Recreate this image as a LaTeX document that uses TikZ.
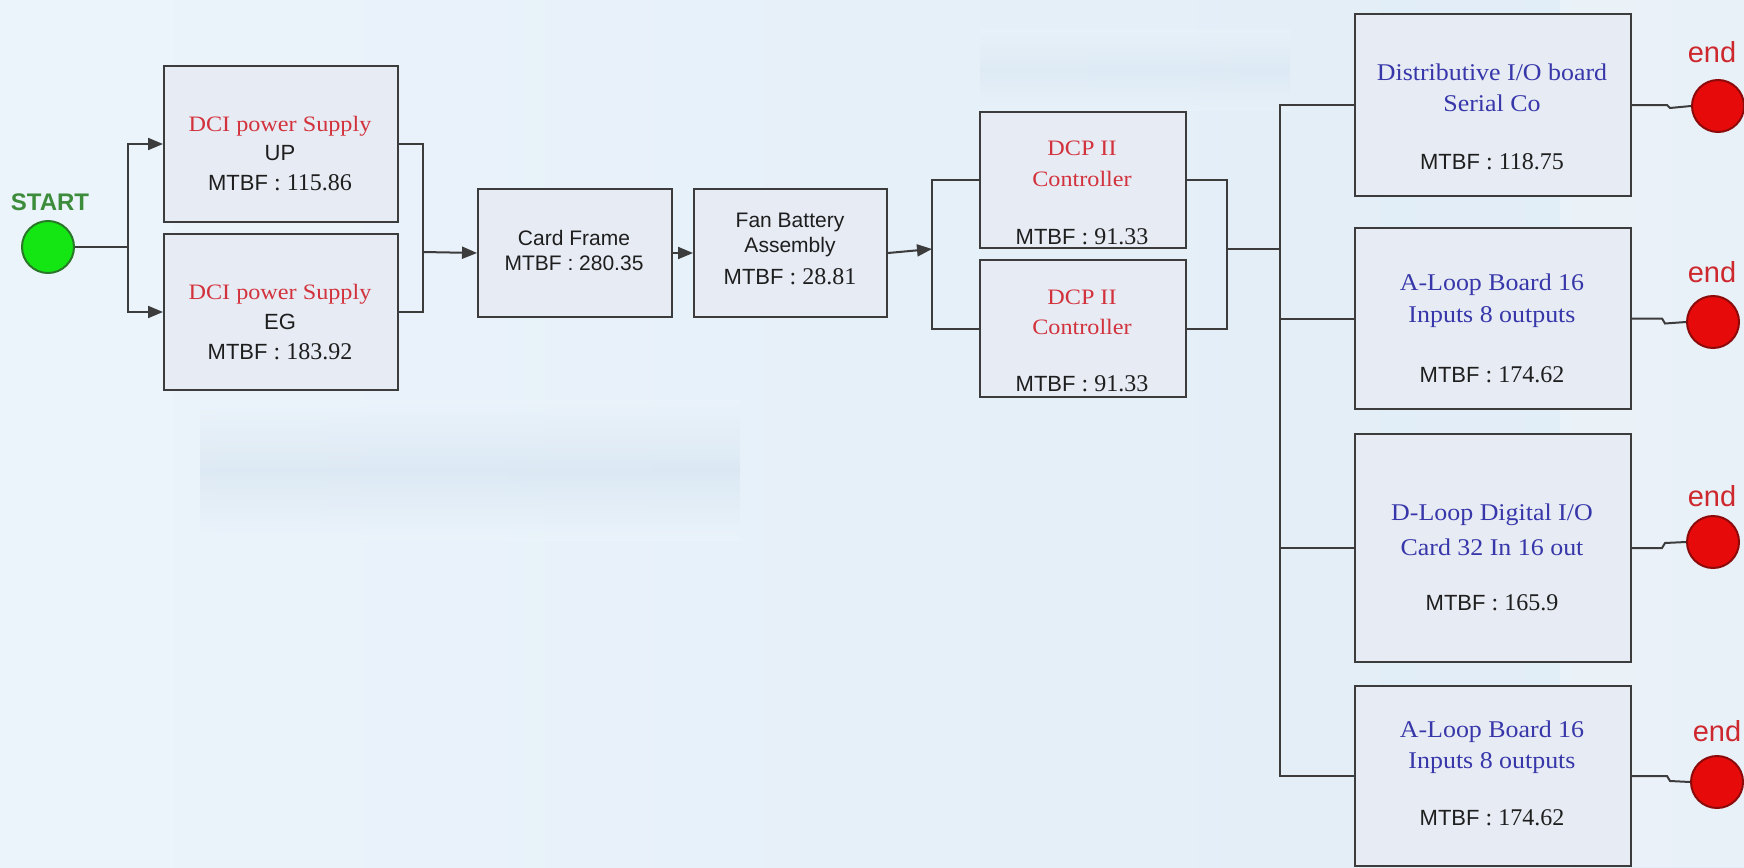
\documentclass[tikz,border=0pt]{standalone}
\usepackage{fontspec}
\setmainfont{Liberation Serif}
\setsansfont{Liberation Sans}
\newfontfamily\widerm[FakeStretch=1.1]{Liberation Serif}
\newfontfamily\bluerm[FakeStretch=1.08]{Liberation Serif}
\usetikzlibrary{arrows.meta}
\definecolor{bgl}{RGB}{236,244,251}
\definecolor{bgr}{RGB}{224,236,246}
\definecolor{bgdark}{RGB}{212,227,240}
\definecolor{boxfill}{RGB}{231,235,244}
\definecolor{boxline}{RGB}{60,60,60}
\definecolor{redtxt}{RGB}{210,50,60}
\definecolor{bluetxt}{RGB}{55,55,170}
\definecolor{darktxt}{RGB}{30,30,30}
\definecolor{startgreen}{RGB}{60,140,60}
\definecolor{startdraw}{RGB}{40,120,40}
\definecolor{startfill}{RGB}{20,230,20}
\definecolor{enddraw}{RGB}{140,10,10}
\definecolor{endfill}{RGB}{230,10,10}
\definecolor{endred}{RGB}{205,40,45}
\tikzset{
  blk/.style={draw=boxline, line width=2pt, fill=boxfill, inner sep=0pt, anchor=north west},
  conn/.style={draw=boxline, line width=2pt},
  arr/.style={conn, -{Triangle[length=15pt,width=12pt]}},
  sanst/.style={font=\fontsize{22}{25}\sffamily, text=darktxt, inner sep=0pt},
  sansm/.style={font=\fontsize{21}{24}\sffamily, text=darktxt, inner sep=0pt},
  redt/.style={font=\fontsize{22}{25}\widerm, text=redtxt, inner sep=0pt},
  bluet/.style={font=\fontsize{24}{27}\bluerm, text=bluetxt, inner sep=0pt},
  startc/.style={circle, draw=startdraw, line width=2pt, fill=startfill, minimum size=52pt, inner sep=0pt},
  endc/.style={circle, draw=enddraw, line width=2pt, fill=endfill, minimum size=52pt, inner sep=0pt},
  endt/.style={font=\fontsize{29}{32}\sffamily, text=endred, inner sep=0pt},
}
\newcommand{\mtbf}[1]{{\sffamily MTBF} {\fontsize{24}{27}\rmfamily: #1}}
\begin{document}
\begin{tikzpicture}[x=1pt,y=-1pt]
\useasboundingbox (0,0) rectangle (1744,867);
\shade[left color=bgl, right color=bgr] (0,0) rectangle (1744,867);
\shade[top color=bgl, bottom color=bgl, middle color=bgdark, opacity=0.6] (200,400) rectangle (740,540);
\shade[top color=bgl, bottom color=bgl, middle color=bgdark, opacity=0.4] (980,30) rectangle (1290,110);
\fill[white,opacity=0.3] (1560,0) rectangle (1744,867);

% boxes
\node[blk, minimum width=234pt, minimum height=156pt] (up) at (163,65) {};
\node[blk, minimum width=234pt, minimum height=156pt] (eg) at (163,233) {};
\node[blk, minimum width=194pt, minimum height=128pt] (card) at (477,188) {};
\node[blk, minimum width=193pt, minimum height=128pt] (fan) at (693,188) {};
\node[blk, minimum width=206pt, minimum height=136pt] (dcp1) at (979,111) {};
\node[blk, minimum width=206pt, minimum height=137pt] (dcp2) at (979,259) {};
\node[blk, minimum width=276pt, minimum height=182pt] (b1) at (1354,13) {};
\node[blk, minimum width=276pt, minimum height=181pt] (b2) at (1354,227) {};
\node[blk, minimum width=276pt, minimum height=228pt] (b3) at (1354,433) {};
\node[blk, minimum width=276pt, minimum height=180pt] (b4) at (1354,685) {};

% texts
\node[redt] (upa) at (280,126) {DCI power Supply};
\node[sanst] (upb) at (280,153) {UP};
\node[sanst] (upc) at (280,183) {\mtbf{115.86}};
\node[redt] (ega) at (280,294) {DCI power Supply};
\node[sanst] (egb) at (280,322) {EG};
\node[sanst] (egc) at (280,352) {\mtbf{183.92}};
\node[sansm] (carda) at (574,238) {Card Frame};
\node[sansm] (cardb) at (574,263) {MTBF : 280.35};
\node[sansm] (fana) at (790,222) {Fan Battery};
\node[sansm] (fanb) at (790,247) {Assembly};
\node[sanst] (fanc) at (790,277) {\mtbf{28.81}};
\node[redt] (d1a) at (1082,148) {DCP II};
\node[redt] (d1b) at (1082,179) {Controller};
\node[sanst] (d1c) at (1082,237) {\mtbf{91.33}};
\node[redt] (d2a) at (1082,297) {DCP II};
\node[redt] (d2b) at (1082,327) {Controller};
\node[sanst] (d2c) at (1082,384) {\mtbf{91.33}};
\node[bluet] (b1a) at (1492,72) {Distributive I/O board};
\node[bluet] (b1b) at (1492,103) {Serial Co};
\node[sanst] (b1c) at (1492,162) {\mtbf{118.75}};
\node[bluet] (b2a) at (1492,285) {A-Loop Board 16};
\node[bluet] (b2b) at (1492,317) {Inputs 8 outputs};
\node[sanst] (b2c) at (1492,375) {\mtbf{174.62}};
\node[bluet] (b3a) at (1492,515) {D-Loop Digital I/O};
\node[bluet] (b3b) at (1492,547) {Card 32 In 16 out};
\node[sanst] (b3c) at (1492,603) {\mtbf{165.9}};
\node[bluet] (b4a) at (1492,732) {A-Loop Board 16};
\node[bluet] (b4b) at (1492,763) {Inputs 8 outputs};
\node[sanst] (b4c) at (1492,818) {\mtbf{174.62}};

% start / end
\node[startc] (start) at (48,247) {};
\node[font=\fontsize{24}{27}\sffamily\bfseries, text=startgreen, inner sep=0pt] (startt) at (50,202) {START};
\node[endc] (e1) at (1718,106) {};
\node[endc] (e2) at (1713,322) {};
\node[endc] (e3) at (1713,542) {};
\node[endc] (e4) at (1717,782) {};
\node[endt] (e1t) at (1712,52) {end};
\node[endt] (e2t) at (1712,272) {end};
\node[endt] (e3t) at (1712,496) {end};
\node[endt] (e4t) at (1717,731) {end};

% junction coordinates
\coordinate (s1) at (128,247);
\coordinate (m1) at (423,252);
\coordinate (s2) at (932,249);
\coordinate (m2) at (1227,249);
\coordinate (s3) at (1280,249);

% connectors
\draw[conn] (start.east) -- (s1);
\draw[arr] (s1) |- (up.west);
\draw[arr] (s1) |- (eg.west);
\draw[conn] (up.east) -| (m1);
\draw[conn] (eg.east) -| (m1);
\draw[arr] (m1) -- (card.west);
\draw[arr] (card.east) -- (fan.west);
\draw[arr] (fan.east) -- (s2);
\draw[conn] (s2) |- (dcp1.west);
\draw[conn] (s2) |- (dcp2.west);
\draw[conn] (dcp1.east) -| (m2);
\draw[conn] (dcp2.east) -| (m2);
\draw[conn] (m2) -- (s3);
\draw[conn] (s3) |- (b1.west);
\draw[conn] (s3) |- (b2.west);
\draw[conn] (s3) |- (b3.west);
\draw[conn] (s3) |- (b4.west);
\draw[conn] (b1.east) -- ++(35,0) -- ++(3,3) -- (e1.west);
\draw[conn] (b2.east) -- ++(30,0) -- ++(3,5) -- (e2.west);
\draw[conn] (b3.east) -- ++(30,0) -- ++(3,-5) -- (e3.west);
\draw[conn] (b4.east) -- ++(35,0) -- ++(3,5) -- (e4.west);
\end{tikzpicture}
\end{document}
